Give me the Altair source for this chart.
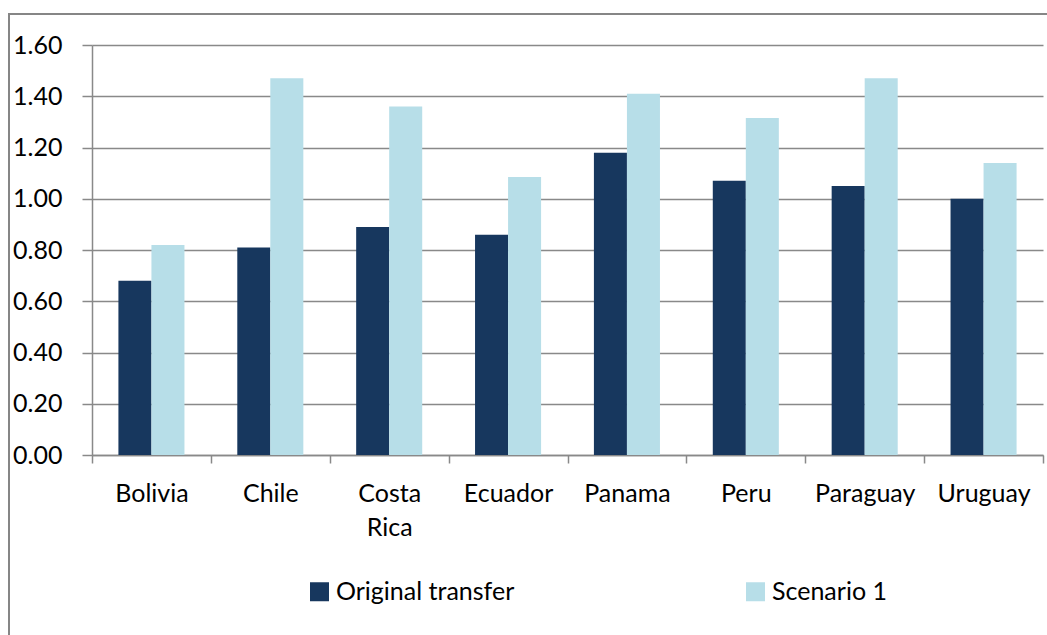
import altair as alt
import pandas as pd

countries = ["Bolivia", "Chile", "Costa Rica", "Ecuador", "Panama", "Peru", "Paraguay", "Uruguay"]
original_transfer = [0.68, 0.81, 0.89, 0.86, 1.18, 1.07, 1.05, 1.00]
scenario_1 = [0.82, 1.47, 1.36, 1.085, 1.41, 1.315, 1.47, 1.14]
series_names = ["Original transfer", "Scenario 1"]
series_colors = ["#17375E", "#B7DEE8"]
y_ticks = [0.0, 0.2, 0.4, 0.6, 0.8, 1.0, 1.2, 1.4, 1.6]

rows = []
for c, a, b in zip(countries, original_transfer, scenario_1):
    rows.append({"country": c, "series": series_names[0], "value": a})
    rows.append({"country": c, "series": series_names[1], "value": b})
df = pd.DataFrame(rows)

FONT = "Lato"
GRID = "#898989"

bars = alt.Chart(df).mark_bar().encode(
    x=alt.X(
        "country:N",
        sort=countries,
        title=None,
        scale=alt.Scale(paddingInner=0, paddingOuter=0),
        axis=alt.Axis(
            labelAngle=0,
            labelFontSize=25,
            labelFont=FONT,
            labelColor="#000000",
            labelPadding=18,
            labelLineHeight=34,
            labelExpr="datum.value == 'Costa Rica' ? ['Costa', 'Rica'] : datum.value",
            tickBand="extent",
            tickSize=8,
            tickColor=GRID,
            tickWidth=1.5,
            domainColor=GRID,
            domainWidth=1.5,
            grid=False,
        ),
    ),
    xOffset=alt.XOffset(
        "series:N", sort=series_names, scale=alt.Scale(paddingInner=0, paddingOuter=0.8)
    ),
    y=alt.Y(
        "value:Q",
        title=None,
        scale=alt.Scale(domain=[0, 1.6], nice=False),
        axis=alt.Axis(
            values=y_ticks,
            format=".2f",
            labelFontSize=25,
            labelFont=FONT,
            labelColor="#000000",
            labelPadding=20,
            tickSize=10,
            tickColor=GRID,
            tickWidth=1.5,
            domainColor=GRID,
            domainWidth=1.5,
            gridColor=GRID,
            gridWidth=1.5,
        ),
    ),
    color=alt.Color(
        "series:N",
        sort=series_names,
        scale=alt.Scale(domain=series_names, range=series_colors),
        legend=alt.Legend(
            title=None,
            orient="none",
            legendX=215,
            legendY=534,
            direction="horizontal",
            symbolType="square",
            symbolSize=361,
            symbolStrokeWidth=0,
            symbolOpacity=1,
            labelFontSize=25,
            labelFont=FONT,
            labelColor="#000000",
            labelOffset=4,
            labelLimit=400,
            columnPadding=228,
            padding=0,
        ),
    ),
)

# Outer chart-area frame
frame = alt.Chart(pd.DataFrame({"a": [0]})).mark_rect(
    fillOpacity=0, stroke="#868686", strokeWidth=2, clip=False
).encode(
    x=alt.value(-83), x2=alt.value(975), y=alt.value(-31), y2=alt.value(610)
)

chart = alt.layer(frame, bars).properties(
    width=951,
    height=410,
    autosize=alt.AutoSizeParams(type="none"),
    padding={"left": 92, "top": 45, "right": 4, "bottom": 180},
    background="#ffffff",
).configure_view(stroke=None)

chart.save("out.html", embed_options={"renderer": "svg", "actions": False})
